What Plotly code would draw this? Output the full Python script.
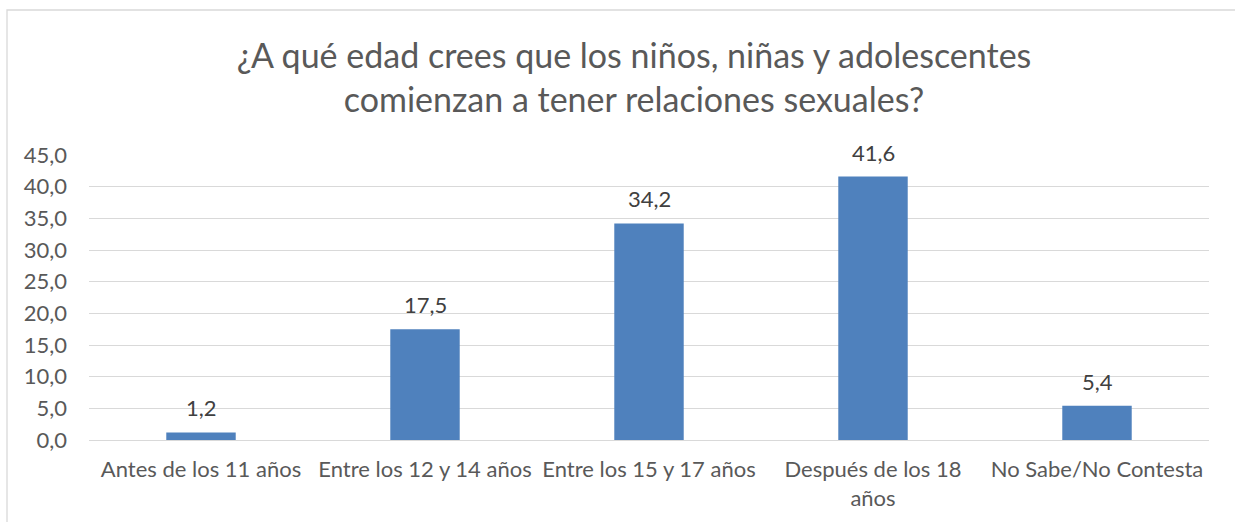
import plotly.graph_objects as go

categories = ["Antes de los 11 años", "Entre los 12 y 14 años", "Entre los 15 y 17 años",
              "Después de los 18<br>años", "No Sabe/No Contesta"]
values = [1.2, 17.5, 34.2, 41.6, 5.4]
tick_vals = [0, 5, 10, 15, 20, 25, 30, 35, 40, 45]
title_text = "¿A qué edad crees que los niños, niñas y adolescentes<br>comienzan a tener relaciones sexuales?"

FONT = "Lato, Carlito, Calibri, sans-serif"

fig = go.Figure()
fig.add_trace(go.Bar(
    x=categories, y=values, marker=dict(color="#4F81BD", line=dict(width=0)),
    width=0.31, hoverinfo="skip",
))

for c, v in zip(categories, values):
    fig.add_annotation(x=c, y=v, text=f"{v:.1f}".replace(".", ","), showarrow=False,
                       yanchor="bottom", yshift=9,
                       font=dict(family=FONT, size=22, color="#404040"))

L, R, T, B = 89, 26, 155, 82
W, H = 1235, 522
pw, ph = W - L - R, H - T - B

fig.add_shape(type="rect", xref="paper", yref="paper",
              x0=(7 - L) / pw, x1=(1300 - L) / pw,
              y0=(H - B - 600) / ph, y1=(H - B - 10) / ph,
              line=dict(color="#D9D9D9", width=1.3), fillcolor="rgba(0,0,0,0)", layer="below")

fig.update_layout(
    width=W, height=H,
    margin=dict(l=L, r=R, t=T, b=B),
    paper_bgcolor="white", plot_bgcolor="white",
    separators=",.",
    showlegend=False,
    title=dict(text=title_text, x=634 / W, xanchor="center", xref="container",
               y=1 - 68 / H, yanchor="top", yref="container",
               font=dict(family=FONT, size=34, color="#595959")),
    font=dict(family=FONT, size=22, color="#595959"),
)
fig.update_xaxes(showline=False, ticks="", showgrid=False, ticklabelstandoff=14,
                 tickfont=dict(family=FONT, size=22, color="#595959"))
fig.update_yaxes(range=[0, 45], tickvals=tick_vals, tickformat=".1f",
                 showgrid=True, gridcolor="#D9D9D9", gridwidth=1.3,
                 zeroline=True, zerolinecolor="#D9D9D9", zerolinewidth=1.3,
                 showline=False, ticks="", ticklabelstandoff=21,
                 tickfont=dict(family=FONT, size=22, color="#595959"))

fig.write_html("out.html", config={"displayModeBar": False},
               post_script="document.body.style.margin='0px';")
